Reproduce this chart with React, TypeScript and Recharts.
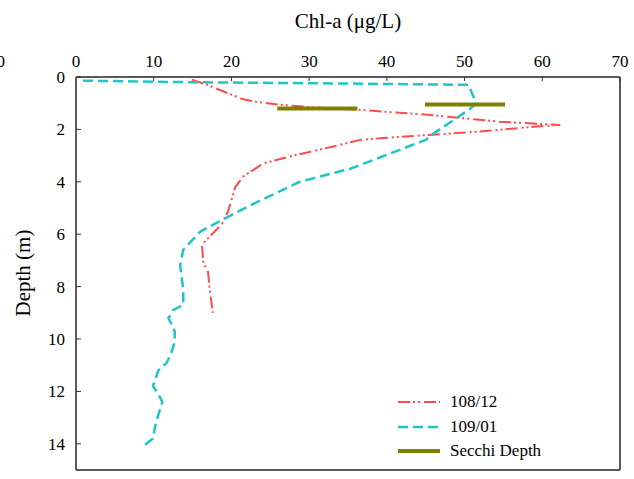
import React from 'react';
import { ScatterChart, Scatter, XAxis, YAxis, Legend, Customized, ReferenceLine } from 'recharts';

// 108/12 profile (Chl-a, Depth)
const chl10812 = [14.9, 16.9, 19.4, 21.4, 23.3, 26.3, 29.7, 36.2, 45.2, 54.6, 62.3, 58.8, 51.1, 46.0, 39.5, 36.6, 33.1, 28.0, 24.1, 21.5, 20.5, 19.6, 18.8, 17.5, 16.2, 16.4, 17.0, 17.2, 17.6];
const depth10812 = [0.1, 0.3, 0.6, 0.84, 0.95, 1.06, 1.14, 1.25, 1.44, 1.71, 1.83, 1.9, 2.1, 2.2, 2.33, 2.4, 2.65, 3.0, 3.3, 3.8, 4.2, 5.1, 5.6, 6.0, 6.4, 7.1, 7.45, 8.1, 9.0];

// 109/01 profile
const chl10901 = [0.9, 15, 35, 50.5, 51.5, 50.7, 45.8, 45.0, 36.2, 35.3, 28.8, 22.4, 18.5, 16.0, 13.8, 13.4, 13.8, 13.8, 12.5, 11.9, 12.7, 12.7, 12.3, 11.7, 10.6, 9.9, 10.6, 11.1, 10.6, 10.2, 9.9, 8.6];
const depth10901 = [0.14, 0.2, 0.25, 0.3, 1.0, 1.22, 2.2, 2.4, 3.4, 3.5, 4.0, 4.9, 5.5, 5.9, 6.6, 7.2, 8.1, 8.7, 8.9, 9.2, 9.7, 10.1, 10.5, 10.9, 11.2, 11.8, 12.1, 12.4, 12.9, 13.3, 13.8, 14.1];

// Secchi depth bars
const secchiA_chl = [25.9, 36.2];
const secchiA_depth = [1.2, 1.2];
const secchiB_chl = [44.9, 55.2];
const secchiB_depth = [1.05, 1.05];

const xTicks = [0, 10, 20, 30, 40, 50, 60, 70];
const yTicks = [0, 2, 4, 6, 8, 10, 12, 14];
const xMax = 70;
const yMax = 15;

const zip = (xs: number[], ys: number[]) => xs.map((x, i) => ({ x, y: ys[i] }));

const RED = '#FF4B4B';
const CYAN = '#1FC6C6';
const OLIVE = '#808000';
const FONT = '"Liberation Serif", "Times New Roman", serif';
const AXIS = '#5a5a5a';

const NoShape = () => <g />;

const legendItems = [
  { label: '108/12', color: RED, dash: '12 3 2 3 2 4', w: 2 },
  { label: '109/01', color: CYAN, dash: '10 5', w: 2.5 },
  { label: 'Secchi Depth', color: OLIVE, dash: undefined, w: 4 },
];

const LegendContent = () => (
  <div style={{ fontFamily: FONT, fontSize: 17, color: '#000' }}>
    {legendItems.map((it) => (
      <div key={it.label} style={{ display: 'flex', alignItems: 'center', height: 24.5 }}>
        <svg width={52} height={10} style={{ display: 'block' }}>
          <line x1={0} y1={5} x2={42} y2={5} stroke={it.color} strokeWidth={it.w} strokeDasharray={it.dash} />
        </svg>
        <span style={{ lineHeight: '24px' }}>{it.label}</span>
      </div>
    ))}
  </div>
);

const Texts = () => (
  <g style={{ fontFamily: FONT }}>
    <text x={348} y={28} textAnchor="middle" fontSize={21} fill="#000">Chl-a (μg/L)</text>
    <text x={30} y={273} textAnchor="middle" fontSize={21} fill="#000" transform="rotate(-90 30 273)">Depth (m)</text>
    <text x={-3.5} y={67} textAnchor="start" fontSize={17} fill="#000">0</text>
  </g>
);

export default function App() {
  return (
    <div style={{ position: 'absolute', left: 0, top: 0, width: 634, height: 479, background: '#fff', fontFamily: FONT }}>
      <ScatterChart width={634} height={479} margin={{ top: 0, right: 14, bottom: 9, left: 0 }} style={{ fontFamily: FONT }}>
        <XAxis
          type="number"
          dataKey="x"
          orientation="top"
          domain={[0, xMax]}
          ticks={xTicks}
          interval={0}
          height={77}
          allowDataOverflow
          axisLine={{ stroke: AXIS, strokeWidth: 2 }}
          tickLine={{ stroke: '#333', strokeWidth: 1 }}
          tickSize={-4}
          tickMargin={14}
          tick={{ fontFamily: FONT, fontSize: 17, fill: '#000' }}
        />
        <YAxis
          type="number"
          dataKey="y"
          reversed
          domain={[0, yMax]}
          ticks={yTicks}
          interval={0}
          width={76}
          allowDataOverflow
          axisLine={{ stroke: AXIS, strokeWidth: 2 }}
          tickLine={{ stroke: '#333', strokeWidth: 1 }}
          tickSize={-5}
          tickMargin={16}
          tick={{ fontFamily: FONT, fontSize: 17, fill: '#000' }}
        />
        <ReferenceLine x={xMax} stroke={AXIS} strokeWidth={2} />
        <ReferenceLine y={yMax} stroke={AXIS} strokeWidth={2} />
        <Scatter
          name="108/12"
          data={zip(chl10812, depth10812)}
          fill={RED}
          line={{ stroke: RED, strokeWidth: 2, strokeDasharray: '12 3 2 3 2 4' }}
          shape={NoShape}
          isAnimationActive={false}
        />
        <Scatter
          name="109/01"
          data={zip(chl10901, depth10901)}
          fill={CYAN}
          line={{ stroke: CYAN, strokeWidth: 2.5, strokeDasharray: '10 5' }}
          shape={NoShape}
          isAnimationActive={false}
        />
        <Scatter
          name="Secchi Depth"
          data={zip(secchiA_chl, secchiA_depth)}
          fill={OLIVE}
          line={{ stroke: OLIVE, strokeWidth: 4 }}
          shape={NoShape}
          isAnimationActive={false}
        />
        <Scatter
          name="Secchi Depth B"
          data={zip(secchiB_chl, secchiB_depth)}
          fill={OLIVE}
          line={{ stroke: OLIVE, strokeWidth: 4 }}
          shape={NoShape}
          isAnimationActive={false}
          legendType="none"
        />
        <Legend
          layout="vertical"
          align="center"
          verticalAlign="middle"
          content={LegendContent}
          wrapperStyle={{ left: 398, top: 390, width: 180, height: 76 }}
        />
        <Customized component={Texts} />
      </ScatterChart>
    </div>
  );
}
